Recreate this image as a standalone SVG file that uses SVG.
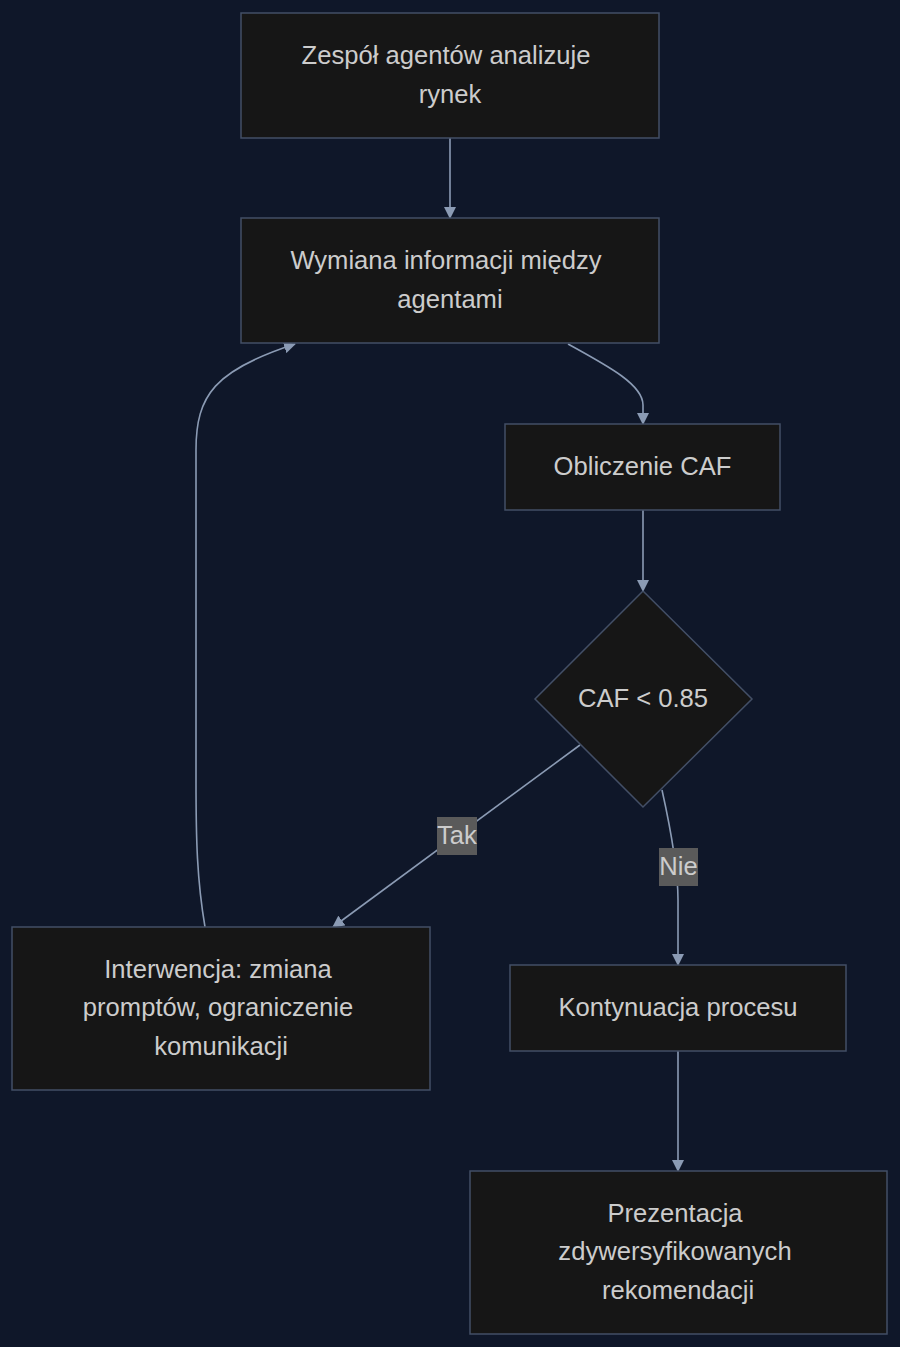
<svg xmlns="http://www.w3.org/2000/svg" width="900" height="1347" viewBox="0 0 900 1347">
<defs>
<style>
.node rect,.node polygon{fill:#161616;stroke:#434f66;stroke-width:1.5}
.node text,.lbl text{font-family:"Liberation Sans",Arial,sans-serif;font-size:25.6px;fill:#cccccc;text-anchor:middle;dominant-baseline:central}
.edge{fill:none;stroke:#8b9bb4;stroke-width:1.6}
.lbl rect{fill:#5a5a5a}
</style>
<marker id="arr" viewBox="0 0 12 12" refX="11" refY="6" markerWidth="12" markerHeight="12" markerUnits="userSpaceOnUse" orient="auto">
<path d="M0,0 L12,6 L0,12 z" fill="#8b9bb4"/>
</marker>
</defs>
<rect width="900" height="1347" fill="#0f1729"/>
<g id="connectors">
<path class="edge" d="M450,138 L450,218" marker-end="url(#arr)"/>
<path class="edge" d="M568,344 C610,367 643,385 643,405 L643,424" marker-end="url(#arr)"/>
<path class="edge" d="M643,510 L643,591" marker-end="url(#arr)"/>
<path class="edge" d="M580,745 L333,927" marker-end="url(#arr)"/>
<path class="edge" d="M662,790 C672,835 678,870 678,900 L678,965" marker-end="url(#arr)"/>
<path class="edge" d="M205,927 C197,880 196,840 196,780 L196,450 C196,395 215,370 295,344" marker-end="url(#arr)"/>
<path class="edge" d="M678,1051 L678,1171" marker-end="url(#arr)"/>
<g class="lbl" id="label-tak"><rect x="437" y="817" width="40" height="38"/><text x="457" y="835">Tak</text></g>
<g class="lbl" id="label-nie"><rect x="659" y="848" width="39" height="38"/><text x="678.5" y="866">Nie</text></g>
</g>
<g class="node" id="n1"><rect x="241" y="13" width="418" height="125"/><text x="446" y="55">Zespół agentów analizuje</text><text x="450" y="93.5">rynek</text></g>
<g class="node" id="n2"><rect x="241" y="218" width="418" height="125"/><text x="446" y="260">Wymiana informacji między</text><text x="450" y="298.5">agentami</text></g>
<g class="node" id="n3"><rect x="505" y="424" width="275" height="86"/><text x="642.5" y="466">Obliczenie CAF</text></g>
<g class="node" id="n4"><polygon points="643,591 752,699 643,807 535,699"/><text x="643" y="697.5">CAF &lt; 0.85</text></g>
<g class="node" id="n5"><rect x="12" y="927" width="418" height="163"/><text x="218" y="968.5">Interwencja: zmiana</text><text x="218" y="1007">promptów, ograniczenie</text><text x="221" y="1045.5">komunikacji</text></g>
<g class="node" id="n6"><rect x="510" y="965" width="336" height="86"/><text x="678" y="1007">Kontynuacja procesu</text></g>
<g class="node" id="n7"><rect x="470" y="1171" width="417" height="163"/><text x="675" y="1212.5">Prezentacja</text><text x="675" y="1251">zdywersyfikowanych</text><text x="678" y="1289.5">rekomendacji</text></g>
</svg>
